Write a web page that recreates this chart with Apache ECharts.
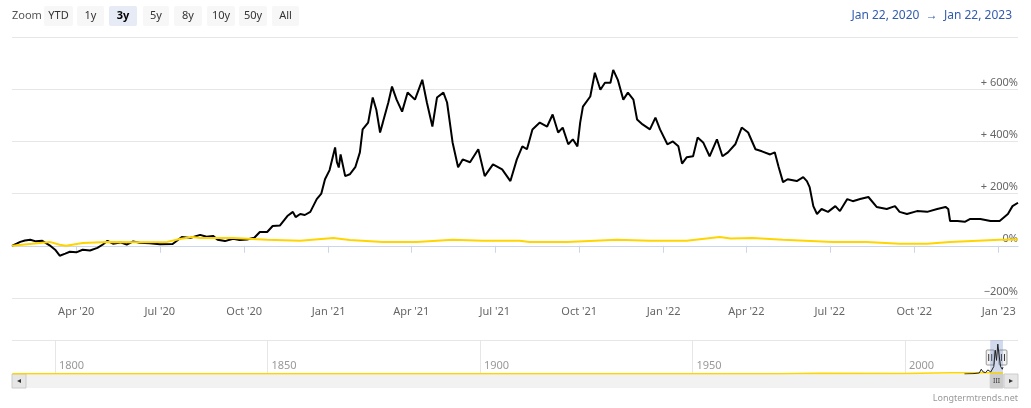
<!DOCTYPE html>
<html>
<head>
<meta charset="utf-8">
<script src="https://cdn.jsdelivr.net/npm/echarts/dist/echarts.min.js"></script>
<style>
  html, body { margin: 0; padding: 0; background: #fff; }
  #chart { width: 1031px; height: 408px; }
</style>
</head>
<body>
<div id="chart"></div>
<script>
// bitcoin, % change since Jan 22 2020
const btcDates = [
  '2020-01-22','2020-01-27','2020-01-31','2020-02-05','2020-02-11','2020-02-17','2020-02-24','2020-03-03',
  '2020-03-09','2020-03-14','2020-03-20','2020-03-25','2020-04-01','2020-04-08','2020-04-16','2020-04-24',
  '2020-04-30','2020-05-05','2020-05-11','2020-05-19','2020-05-26','2020-06-02','2020-06-09','2020-06-20',
  '2020-07-01','2020-07-15','2020-07-25','2020-08-03','2020-08-14','2020-08-21','2020-08-28','2020-09-02',
  '2020-09-10','2020-09-19','2020-09-26','2020-10-04','2020-10-12','2020-10-18','2020-10-26','2020-11-01',
  '2020-11-09','2020-11-17','2020-11-23','2020-11-26','2020-12-01','2020-12-06','2020-12-12','2020-12-19',
  '2020-12-24','2020-12-28','2021-01-02','2021-01-08','2021-01-10','2021-01-12','2021-01-14','2021-01-19',
  '2021-01-24','2021-01-30','2021-02-04','2021-02-07','2021-02-13','2021-02-18','2021-02-22','2021-02-26',
  '2021-03-01','2021-03-07','2021-03-11','2021-03-16','2021-03-22','2021-03-28','2021-04-05','2021-04-13',
  '2021-04-18','2021-04-24','2021-04-29','2021-05-06','2021-05-10','2021-05-16','2021-05-22','2021-05-27',
  '2021-06-04','2021-06-13','2021-06-20','2021-06-29','2021-07-09','2021-07-18','2021-07-25','2021-07-31',
  '2021-08-05','2021-08-11','2021-08-19','2021-08-27','2021-09-02','2021-09-08','2021-09-13','2021-09-19',
  '2021-09-24','2021-09-29','2021-10-02','2021-10-05','2021-10-13','2021-10-18','2021-10-24','2021-10-29',
  '2021-11-04','2021-11-07','2021-11-12','2021-11-18','2021-11-23','2021-11-29','2021-12-03','2021-12-09',
  '2021-12-17','2021-12-23','2021-12-28','2022-01-05','2022-01-11','2022-01-17','2022-01-21','2022-01-26',
  '2022-02-02','2022-02-07','2022-02-13','2022-02-20','2022-02-28','2022-03-06','2022-03-12','2022-03-20',
  '2022-03-27','2022-04-03','2022-04-11','2022-04-18','2022-04-27','2022-05-02','2022-05-06','2022-05-11',
  '2022-05-16','2022-05-26','2022-06-02','2022-06-06','2022-06-09','2022-06-13','2022-06-17','2022-06-22',
  '2022-06-29','2022-07-07','2022-07-12','2022-07-20','2022-07-26','2022-08-03','2022-08-12','2022-08-21',
  '2022-09-01','2022-09-10','2022-09-15','2022-09-23','2022-10-04','2022-10-15','2022-10-26','2022-11-04',
  '2022-11-07','2022-11-09','2022-11-17','2022-11-25','2022-12-01','2022-12-12','2022-12-23','2023-01-02',
  '2023-01-11','2023-01-16','2023-01-22'
];
const btcValues = [
  0, 8, 15, 20, 23, 17, 19, 2,
  -15, -38, -30, -23, -25, -15, -18, -8,
  5, 19, 8, 13, 5, 17, 12, 10,
  6, 7, 34, 30, 42, 35, 38, 23,
  18, 27, 22, 24, 31, 53, 53, 76,
  78, 114, 130, 110, 122, 118, 130, 179,
  200, 255, 290, 377, 320, 300, 350, 267,
  274, 301, 358, 446, 472, 568, 520, 434,
  472, 549, 610, 560, 514, 587, 560, 636,
  549, 457, 568, 587, 549, 396, 301, 331,
  320, 370, 267, 312, 293, 248, 331, 381,
  370, 446, 472, 457, 503, 434, 453, 389,
  408, 381, 472, 533, 572, 663, 598, 625,
  625, 674, 636, 560, 587, 560, 484, 465,
  446, 491, 446, 389, 400, 381, 315, 339,
  343, 415, 396, 343, 408, 343, 358, 389,
  453, 434, 370, 362, 350, 358, 305, 244,
  255, 248, 263, 248, 225, 152, 122, 141,
  130, 152, 133, 179, 171, 179, 187, 149,
  141, 152, 130, 122, 133, 130, 141, 149,
  141, 95, 95, 92, 103, 103, 95, 95,
  122, 152, 165
];

// gold, % change since Jan 22 2020
const goldDates = [
  '2020-01-22','2020-02-13','2020-03-03','2020-03-14','2020-03-21','2020-04-08','2020-05-05','2020-06-09',
  '2020-07-09','2020-07-24','2020-08-06','2020-08-14','2020-09-19','2020-10-26','2020-12-01','2021-01-06',
  '2021-01-24','2021-03-01','2021-04-07','2021-05-16','2021-06-18','2021-07-28','2021-08-08','2021-09-18',
  '2021-11-11','2021-12-17','2022-01-26','2022-03-03','2022-03-15','2022-04-08','2022-05-11','2022-07-04',
  '2022-08-10','2022-09-15','2022-10-15','2022-11-09','2023-01-02','2023-01-22'
];
const goldValues = [
  0, 8, 15, 4, 0, 11, 15, 14,
  15, 27, 34, 30, 30, 23, 19, 30,
  22, 15, 15, 23, 19, 19, 15, 15,
  23, 19, 19, 34, 28, 30, 23, 15,
  15, 8, 8, 15, 23, 24
];

const xTickDates = [
  '2020-04-01','2020-07-01','2020-10-01','2021-01-01','2021-04-01','2021-07-01',
  '2021-10-01','2022-01-01','2022-04-01','2022-07-01','2022-10-01','2023-01-01'
];
const rangeStart = '2020-01-22';
const rangeEnd = '2023-01-22';

// navigator (full history)
const navTickYears = [1800, 1850, 1900, 1950, 2000];
const navBtcYears = [2014, 2016, 2017.5, 2017.95, 2018.4, 2019.0, 2019.5, 2020.2, 2020.9, 2021.25, 2021.55, 2021.85, 2022.2, 2022.5, 2022.9, 2023.06];
const navBtcValues = [0, 1, 3, 14, 6, 4, 12, 6, 22, 70, 40, 88, 50, 22, 14, 20];
const navGoldYears = [1790, 1850, 1900, 1950, 1970, 1980, 2000, 2011, 2020, 2023.06];
const navGoldValues = [0.5, 0.5, 0.5, 0.6, 0.8, 2, 1.5, 3.5, 3.8, 4];
const navSelStart = 2020.06;
const navSelEnd = 2023.06;

const zoomButtons = ['YTD', '1y', '3y', '5y', '8y', '10y', '50y', 'All'];
const selectedButton = '3y';

const FONT = '"Noto Sans", "Open Sans", sans-serif';
const MONTHS = ['Jan','Feb','Mar','Apr','May','Jun','Jul','Aug','Sep','Oct','Nov','Dec'];

function ts(d) { return Date.parse(d + 'T00:00:00Z'); }
function pairs(xs, ys, fx) {
  return xs.map(function (x, i) { return [fx ? fx(x) : x, ys[i]]; });
}
const xTicks = xTickDates.map(ts);

const chart = echarts.init(document.getElementById('chart'), null, { renderer: 'canvas' });

// header buttons
const btnX = [44, 77, 109, 143, 174, 207, 239, 272];
const btnW = [29, 27, 28, 26, 28, 28, 28, 27];
const headerGraphics = [
  { type: 'text', x: 12, y: 16, style: { text: 'Zoom', fill: '#555', font: '11px ' + FONT, verticalAlign: 'middle' } }
];
zoomButtons.forEach(function (b, i) {
  const sel = b === selectedButton;
  headerGraphics.push({
    type: 'rect', shape: { x: btnX[i], y: 6, width: btnW[i], height: 20, r: 2 },
    style: { fill: sel ? '#e6ebf5' : '#f7f7f7' }
  });
  headerGraphics.push({
    type: 'text', x: btnX[i] + btnW[i] / 2, y: 16,
    style: { text: b, fill: sel ? '#000' : '#333', font: (sel ? 'bold ' : '') + '11px ' + FONT, align: 'center', verticalAlign: 'middle' }
  });
});
headerGraphics.push({
  type: 'text', x: 1012, y: 16,
  style: { text: 'Jan 22, 2020  \u2192  Jan 22, 2023', fill: '#335cad', font: '12px ' + FONT, align: 'right', verticalAlign: 'middle' }
});
headerGraphics.push({
  type: 'text', x: 1018, y: 398,
  style: { text: 'Longtermtrends.net', fill: '#999', font: '9px ' + FONT, align: 'right', verticalAlign: 'middle' }
});

chart.setOption({
  animation: false,
  grid: [
    { left: 12, right: 13, top: 37, bottom: 110 },
    { left: 12, right: 13, top: 340, height: 34 }
  ],
  xAxis: [
    {
      type: 'value', gridIndex: 0,
      min: ts(rangeStart), max: ts(rangeEnd),
      axisLine: { lineStyle: { color: '#ccd6eb' } },
      axisTick: { customValues: xTicks, length: 7, lineStyle: { color: '#ccd6eb' } },
      axisLabel: {
        customValues: xTicks,
        color: '#666', fontSize: 11, fontFamily: FONT, margin: 8,
        formatter: function (v) {
          const d = new Date(v);
          return MONTHS[d.getUTCMonth()] + " '" + String(d.getUTCFullYear()).slice(2);
        }
      },
      splitLine: { show: false }
    },
    {
      type: 'value', gridIndex: 1,
      min: 1789.9, max: 2026.6,
      axisLine: { show: false },
      axisTick: { customValues: navTickYears, inside: true, length: 34, lineStyle: { color: '#e6e6e6' } },
      axisLabel: {
        customValues: navTickYears, inside: true, align: 'left', margin: 3,
        padding: [0, 0, 0, 4], color: '#999', fontSize: 11, fontFamily: FONT,
        formatter: function (v) { return String(v); }
      },
      splitLine: { show: false }
    }
  ],
  yAxis: [
    {
      type: 'value', gridIndex: 0, position: 'right',
      min: -200, max: 800, interval: 200,
      axisLine: { show: false }, axisTick: { show: false },
      axisLabel: {
        inside: true, margin: 0, verticalAlign: 'bottom', padding: [0, 0, 1, 0],
        color: '#666', fontSize: 11, fontFamily: FONT,
        formatter: function (v) {
          if (v === 800) return '';
          if (v > 0) return '+ ' + v + '%';
          if (v < 0) return '\u2212' + Math.abs(v) + '%';
          return v + '%';
        }
      },
      splitLine: { lineStyle: { color: '#e6e6e6' } }
    },
    { type: 'value', gridIndex: 1, min: 0, max: 100, show: false }
  ],
  series: [
    {
      name: 'Bitcoin', type: 'line', xAxisIndex: 0, yAxisIndex: 0,
      data: pairs(btcDates, btcValues, ts), showSymbol: false,
      lineStyle: { color: '#000', width: 2 }, itemStyle: { color: '#000' }
    },
    {
      name: 'Gold', type: 'line', xAxisIndex: 0, yAxisIndex: 0,
      data: pairs(goldDates, goldValues, ts), showSymbol: false,
      lineStyle: { color: '#ffd500', width: 2 }, itemStyle: { color: '#ffd500' }
    },
    {
      name: 'nav-gold', type: 'line', xAxisIndex: 1, yAxisIndex: 1,
      data: pairs(navGoldYears, navGoldValues), showSymbol: false,
      lineStyle: { color: '#ffd500', width: 1.5 }
    },
    {
      name: 'nav-btc', type: 'line', xAxisIndex: 1, yAxisIndex: 1,
      data: pairs(navBtcYears, navBtcValues), showSymbol: false,
      lineStyle: { color: '#222', width: 1 },
      markArea: {
        silent: true,
        itemStyle: { color: 'rgba(102,133,194,0.3)' },
        data: [[{ xAxis: navSelStart }, { xAxis: navSelEnd }]]
      }
    }
  ],
  graphic: headerGraphics
});

// navigator chrome: outline, scrollbar, handles
const sx = chart.convertToPixel({ xAxisIndex: 1 }, navSelStart);
const ex = chart.convertToPixel({ xAxisIndex: 1 }, navSelEnd);
const navL = 12, navR = 1018, sbY = 374, sbH = 14;

function handle(x) {
  return {
    type: 'group', children: [
      { type: 'rect', shape: { x: x - 4, y: 350, width: 8, height: 15, r: 1 }, style: { fill: '#f2f2f2', stroke: '#999', lineWidth: 1 } },
      { type: 'line', shape: { x1: x - 1.5, y1: 354, x2: x - 1.5, y2: 361 }, style: { stroke: '#333', lineWidth: 1 } },
      { type: 'line', shape: { x1: x + 1.5, y1: 354, x2: x + 1.5, y2: 361 }, style: { stroke: '#333', lineWidth: 1 } }
    ]
  };
}

const chrome = headerGraphics.concat([
  { type: 'line', shape: { x1: navL, y1: 340.5, x2: navR, y2: 340.5 }, style: { stroke: '#e6e6e6', lineWidth: 1 } },
  { type: 'rect', shape: { x: navL, y: sbY, width: navR - navL, height: sbH }, style: { fill: '#f2f2f2' } },
  { type: 'rect', shape: { x: navL, y: sbY, width: sbH, height: sbH }, style: { fill: '#e6e6e6', stroke: '#ccc' } },
  { type: 'text', x: navL + sbH / 2, y: sbY + sbH / 2, style: { text: '\u25C2', fill: '#333', font: '8px ' + FONT, align: 'center', verticalAlign: 'middle' } },
  { type: 'rect', shape: { x: navR - sbH, y: sbY, width: sbH, height: sbH }, style: { fill: '#e6e6e6', stroke: '#ccc' } },
  { type: 'text', x: navR - sbH / 2, y: sbY + sbH / 2, style: { text: '\u25B8', fill: '#333', font: '8px ' + FONT, align: 'center', verticalAlign: 'middle' } },
  { type: 'rect', shape: { x: sx, y: sbY, width: ex - sx, height: sbH }, style: { fill: '#cccccc', stroke: '#cccccc' } },
  { type: 'text', x: (sx + ex) / 2, y: sbY + sbH / 2, style: { text: 'III', fill: '#333', font: '7px ' + FONT, align: 'center', verticalAlign: 'middle' } },
  handle(sx),
  handle(ex)
]);

chart.setOption({ graphic: chrome }, { replaceMerge: ['graphic'] });
</script>
</body>
</html>
